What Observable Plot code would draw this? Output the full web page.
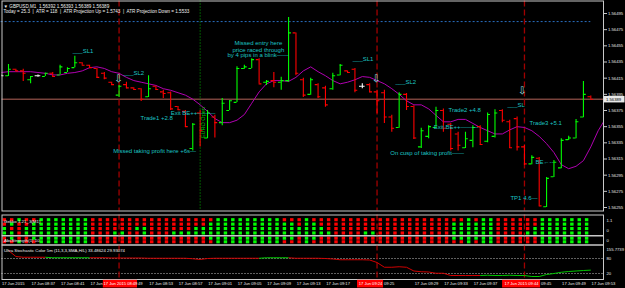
<!DOCTYPE html>
<html><head><meta charset="utf-8">
<script src="https://cdn.jsdelivr.net/npm/d3@7"></script>
<script src="https://cdn.jsdelivr.net/npm/@observablehq/plot@0.6"></script>
<style>
html,body{margin:0;padding:0;background:#000;}
#chart{position:relative;width:625px;height:288px;background:#000;overflow:hidden;}
#chart svg{position:absolute;left:0;top:0;}
</style></head><body><div id="chart"></div>
<script>
// ---------- DATA ----------
const times = ["08:33","08:34","08:35","08:36","08:37","08:38","08:39","08:40","08:41","08:42","08:43","08:44","08:45","08:46","08:47","08:48","08:49","08:50","08:51","08:52","08:53","08:54","08:55","08:56","08:57","08:58","08:59","09:00","09:01","09:02","09:03","09:04","09:05","09:06","09:07","09:08","09:09","09:10","09:11","09:12","09:13","09:14","09:15","09:16","09:17","09:18","09:19","09:20","09:21","09:22","09:23","09:24","09:25","09:26","09:27","09:28","09:29","09:30","09:31","09:32","09:33","09:34","09:35","09:36","09:37","09:38","09:39","09:40","09:41","09:42","09:43","09:44","09:45","09:46","09:47","09:48","09:49","09:50","09:51","09:52","09:53"];
const open = [1.56418,1.56418,1.56426,1.56424,1.56413,1.56418,1.56417,1.56421,1.56419,1.56422,1.56428,1.56434,1.56431,1.56427,1.56421,1.56410,1.56394,1.56407,1.56403,1.56402,1.56392,1.56405,1.56398,1.56397,1.56380,1.56374,1.56328,1.56372,1.56341,1.56367,1.56360,1.56375,1.56385,1.56427,1.56427,1.56438,1.56410,1.56412,1.56410,1.56412,1.56471,1.56413,1.56395,1.56407,1.56403,1.56402,1.56419,1.56424,1.56426,1.56405,1.56407,1.56398,1.56397,1.56367,1.56354,1.56395,1.56380,1.56330,1.56343,1.56354,1.56375,1.56358,1.56346,1.56329,1.56338,1.56355,1.56337,1.56343,1.56375,1.56361,1.56365,1.56330,1.56309,1.56316,1.56256,1.56293,1.56304,1.56339,1.56341,1.56367,1.56392];
const high = [1.56419,1.56432,1.56426,1.56426,1.56417,1.56419,1.56421,1.56422,1.56431,1.56428,1.56442,1.56434,1.56431,1.56427,1.56422,1.56410,1.56406,1.56410,1.56403,1.56402,1.56418,1.56405,1.56400,1.56398,1.56380,1.56375,1.56359,1.56375,1.56375,1.56369,1.56390,1.56387,1.56429,1.56431,1.56439,1.56439,1.56412,1.56422,1.56416,1.56490,1.56471,1.56415,1.56415,1.56408,1.56405,1.56421,1.56432,1.56424,1.56427,1.56408,1.56408,1.56400,1.56400,1.56369,1.56397,1.56396,1.56381,1.56353,1.56356,1.56379,1.56377,1.56359,1.56348,1.56348,1.56356,1.56356,1.56372,1.56376,1.56376,1.56363,1.56367,1.56332,1.56319,1.56317,1.56292,1.56313,1.56340,1.56343,1.56364,1.56411,1.56393];
const low = [1.56417,1.56417,1.56423,1.56411,1.56408,1.56416,1.56417,1.56416,1.56419,1.56422,1.56428,1.56431,1.56427,1.56415,1.56413,1.56406,1.56391,1.56402,1.56400,1.56386,1.56391,1.56400,1.56390,1.56375,1.56375,1.56354,1.56325,1.56330,1.56340,1.56341,1.56356,1.56375,1.56385,1.56426,1.56427,1.56408,1.56406,1.56403,1.56400,1.56410,1.56418,1.56391,1.56394,1.56390,1.56379,1.56400,1.56418,1.56421,1.56397,1.56402,1.56397,1.56371,1.56359,1.56348,1.56353,1.56375,1.56339,1.56328,1.56340,1.56353,1.56348,1.56325,1.56325,1.56328,1.56329,1.56332,1.56335,1.56341,1.56360,1.56328,1.56325,1.56307,1.56308,1.56257,1.56255,1.56292,1.56303,1.56338,1.56340,1.56366,1.56389];
const close = [1.56418,1.56426,1.56424,1.56421,1.56417,1.56418,1.56421,1.56417,1.56429,1.56427,1.56434,1.56431,1.56428,1.56416,1.56415,1.56407,1.56405,1.56403,1.56401,1.56389,1.56402,1.56401,1.56396,1.56377,1.56376,1.56355,1.56358,1.56350,1.56372,1.56360,1.56384,1.56387,1.56427,1.56429,1.56438,1.56408,1.56411,1.56410,1.56412,1.56471,1.56421,1.56394,1.56413,1.56392,1.56382,1.56418,1.56431,1.56422,1.56400,1.56405,1.56398,1.56387,1.56367,1.56353,1.56395,1.56380,1.56341,1.56350,1.56355,1.56375,1.56353,1.56328,1.56332,1.56340,1.56354,1.56333,1.56370,1.56372,1.56363,1.56329,1.56330,1.56309,1.56317,1.56257,1.56291,1.56311,1.56338,1.56341,1.56361,1.56395,1.56389];
const maTimes = times.concat(["09:54","09:55"]);
const maValues = [1.56422,1.56423,1.56423,1.56423,1.56423,1.56422,1.56421,1.56419,1.56419,1.56421,1.56422,1.56424,1.56428,1.56429,1.56427,1.56423,1.56421,1.56416,1.56412,1.56410,1.56408,1.56406,1.56402,1.56400,1.56397,1.56394,1.56389,1.56382,1.56374,1.56365,1.56360,1.56360,1.56363,1.56370,1.56384,1.56398,1.56408,1.56412,1.56412,1.56411,1.56416,1.56424,1.56429,1.56423,1.56418,1.56412,1.56408,1.56410,1.56413,1.56417,1.56416,1.56412,1.56408,1.56402,1.56395,1.56387,1.56382,1.56382,1.56377,1.56369,1.56361,1.56361,1.56364,1.56364,1.56359,1.56354,1.56350,1.56346,1.56346,1.56351,1.56355,1.56354,1.56350,1.56343,1.56334,1.56323,1.56308,1.56303,1.56306,1.56313,1.56330,1.56350,1.56365];
const priceTicks = [1.56495,1.56475,1.56455,1.56435,1.56415,1.56395,1.56375,1.56355,1.56335,1.56315,1.56295,1.56275,1.56255];
const currentPrice = 1.56389;
const topLevel = 1.56485;
const eventTimes = ["08:49","09:24","09:44"];
const euroOpen = "09:00";
const headerLines = ["\u25BC GBPUSD,M1  1.56392 1.56393 1.56389 1.56389",
  "Today = 25.3  |  ATR = 118  |  ATR Projection Up = 1.5743  |  ATR Projection Down = 1.5533"];
const noteText = ["___SL1","___SL2","Trade1 +2.8","Exit BE++\u2014\u2014\u2014","Missed taking profit here +6s\u2014","by 4 pips in a blink\u2014\u2014","___SL1","___SL2","Trade2 +4.8","Exit BE++\u2014\u2014\u2014","On cusp of taking profit\u2014\u2014","___SL","Trade3 +5.1","BE\u2190--","TP1 4.6\u2014"];
const noteTime = ["08:42:42","08:49:36","08:51:54","08:56:00","08:48:12","09:03:42","09:20:42","09:26:30","09:33:42","09:31:42","09:25:48","09:41:42","09:44:42","09:45:30","09:42:06"];
const notePrice = [1.56449,1.56421,1.56366,1.56372,1.56325,1.56443,1.56439,1.56410,1.56375,1.56354,1.56322,1.56382,1.56359,1.56311,1.56267];
const centerText = ["Missed entry here","price raced through"];
const centerTime = ["09:07:54","09:07:54"];
const centerPrice = [1.56458,1.56450];
const arrowTime = ["08:48:54","09:23:54","09:43:42"];
const arrowPrice = [1.56414,1.56414,1.56399];
// indicator panel A (4 rows) and B (2 rows): g = green, r = red, one per bar 08:34..09:53
const rowsA = [
 "rrgrrggggggg" + "rrrrrrrrrrrrrrr" + "rrggggggggg" + "rrrgrrrr" + "rrrrrrrrrrrrrrr" + "rrgrgg" + "rrrrrr" + "ggggggg",
 "rgrrgggggggg" + "rrrrrrrrrrrrrrr" + "rgggggggggg" + "ggrggrrr" + "rrrrrrrrrrrrrrr" + "gggggg" + "rrrrrr" + "ggggggg",
 "grrggggggggg" + "rrrrrrggrrrrrrg" + "ggggggggggg" + "ggggggrr" + "rrrrrrrrrrrrrrr" + "gggggg" + "rrrrrg" + "ggggggg",
 "ggrggggggggg" + "rrrggrrgrrrgggg" + "ggggggggggg" + "gggggggr" + "rrrggrrrrrrrrrr" + "gggggg" + "rrrrgg" + "ggggggg"];
const rowsB = [
 "rgrrgggggggg" + "rrrrrrrrrrrrrrr" + "rgggggggggg" + "ggrggrrr" + "rrrrrrrrrrrrrrr" + "gggggg" + "rrrrrr" + "ggggggg",
 "rrgrrggggggg" + "rrrrrrrrrrrrrrr" + "rrggggggggg" + "rrrgrrrr" + "rrrrrrrrrrrrrrr" + "rrgrgg" + "rrrrrr" + "ggggggg"];
const stoch = [112,88,85,85,85,85,83,83,83,83,83,83,83,83,82,82,82,82,82,81,81,81,81,81,81,79,76,80,81,81,81,81,81,81,81,83,83,83,83,81,81,81,81,80,78,75,75,75,75,74,64,45,45,47,45,30,27,26,21,21,12,12,12,12,12,13,12,12,13,12,12,8,8,16,20,25,28,30,32,33.5];
const stochState = "rrrrrrgggggg" + "rrrrrrrrrrrrrrrrrrrrrrr" + "gggg" + "rrrrrrrrrrrrrrrrrrrrrrrrrr" + "ggggggggggggggg";
const stochLevels = [80, 20];
// time axis: regular labels (visible part), and the highlighted labels of the three vertical lines
const tickTimes = ["08:33","08:37","08:41","08:45","08:53","08:57","09:01","09:05","09:09","09:13","09:17","09:29","09:33","09:37","09:49","09:53"];
const tickLabels = ["17 Jun 2015","17 Jun 08:37","17 Jun 08:41","17 Jun","17 Jun 08:53","17 Jun 08:57","17 Jun 09:01","17 Jun 09:05","17 Jun 09:09","17 Jun 09:13","17 Jun 09:17","17 Jun 09:29","17 Jun 09:33","17 Jun 09:37","17 Jun 09:49","17 Jun 09:53"];
const boxStart = ["08:46:52","09:21:21","09:41:02"];
const boxEnd = ["08:51:30","09:24:53","09:46:11"];
const boxLabels = ["17 Jun 2015 08:49","17 Jun 09:24","17 Jun 2015 09:44"];
const tailLabels = ["49","09:25","09:45"];

// ---------- BUILD ----------
const W = 625, H = 288;
const FONT = "'Liberation Sans', Arial, sans-serif";
const pT = d3.utcParse("%H:%M"), pTs = d3.utcParse("%H:%M:%S");
const T = s => (s.length > 5 ? pTs(s) : pT(s));
const sec = (t, s) => d3.utcSecond.offset(t, s);
const GREEN = "#00ff00", RED = "#ff0000";
const xOpt = {type: "utc", domain: [T("08:34"), T("09:53")], range: [8, 590.3], axis: null};
const yMain = {domain: [1.56255, 1.56495], range: [207, 13], axis: null};
const style = {background: "transparent", fontFamily: FONT, color: "#e0e0e0", overflow: "visible"};
const bars = times.map((t, k) => ({t: T(t), o: open[k], h: high[k], l: low[k], c: close[k]}));
const barColor = d => d.c > d.o ? GREEN : d.c < d.o ? RED : "#ffffff";
const ANN = "#1cc4c4";

const chart = document.getElementById("chart");
const add = svg => chart.appendChild(svg);

// main price panel
add(Plot.plot({
  width: W, height: H, style,
  marginLeft: 1.5, marginRight: 22, marginTop: 0.5, marginBottom: H - 210.5,
  x: xOpt, y: yMain,
  marks: [
    Plot.ruleY([topLevel], {x1: T("08:33"), x2: T("09:53"), stroke: "#2a6fc0", strokeDasharray: "2,2", strokeWidth: 1}),
    Plot.ruleY([currentPrice], {stroke: "#b4645a", strokeWidth: 1}),
    Plot.ruleX(eventTimes, {x: T, stroke: "#a00000", strokeWidth: 1.3, strokeDasharray: "6,3"}),
    Plot.ruleX([euroOpen], {x: T, stroke: "#00b000", strokeWidth: 1, strokeDasharray: "1,2"}),
    Plot.line(maValues, {x: (d, k) => T(maTimes[k]), y: d => d, stroke: "#b000b0", strokeWidth: 1, clip: true}),
    Plot.ruleX(bars, {x: "t", y1: "l", y2: "h", stroke: barColor, strokeWidth: 1.1, clip: true}),
    Plot.ruleY(bars, {x1: d => sec(d.t, -23), x2: "t", y: "o", stroke: barColor, strokeWidth: 1.1, clip: true}),
    Plot.ruleY(bars, {x1: "t", x2: d => sec(d.t, 23), y: "c", stroke: barColor, strokeWidth: 1.1, clip: true}),
    Plot.text(noteText, {x: (d, k) => T(noteTime[k]), y: (d, k) => notePrice[k], text: d => d, textAnchor: "start", fill: ANN, fontSize: 6}),
    Plot.text(centerText, {x: (d, k) => T(centerTime[k]), y: (d, k) => centerPrice[k], text: d => d, textAnchor: "middle", fill: ANN, fontSize: 6}),
    Plot.text(["EURO Open"], {x: () => T("09:00:24"), y: () => 1.56360, text: d => d, rotate: -90, fill: "#00c000", fontSize: 5.5}),
    Plot.text(arrowTime, {x: T, y: (d, k) => arrowPrice[k], text: () => "\u21E9", fill: "#9fe6e6", fontSize: 10, fontFamily: "DejaVu Sans"}),
    Plot.text([headerLines[0]], {frameAnchor: "top-left", dx: 1.5, dy: 3.5, text: d => d, fill: "#f0f0f0", fontSize: 4.6}),
    Plot.text([headerLines[1]], {frameAnchor: "top-left", dx: 1.5, dy: 9, text: d => d, fill: "#f0f0f0", fontSize: 4.6}),
    Plot.axisY(priceTicks, {anchor: "right", tickSize: 3, tickPadding: 1.5, tickFormat: d3.format(".5f"), fontSize: 4.2, stroke: "#c8c8c8", fill: "#e8e8e8", label: null}),
    Plot.frame({stroke: "#c8c8c8"})
  ]
}));

// current price marker on the right axis
add(Plot.plot({
  width: W, height: H, style,
  marginLeft: 603.5, marginRight: 0.5, marginTop: 0.5, marginBottom: H - 210.5,
  y: yMain,
  marks: [
    Plot.ruleY([currentPrice], {stroke: "#e8e8e8", strokeWidth: 6.5}),
    Plot.text([currentPrice], {y: d => d, frameAnchor: "left", textAnchor: "start", dx: 2, text: d3.format(".5f"), fill: "#000", fontSize: 4.2})
  ]
}));

// panel A
const cellsA = rowsA.flatMap((s, r) => [...s].map((ch, j) => ({t: T(times[j + 1]), row: r + 1, c: ch})));
add(Plot.plot({
  width: W, height: H, style,
  marginLeft: 1.5, marginRight: 22, marginTop: 214.5, marginBottom: H - 235,
  x: xOpt, y: {domain: [1, 4], range: [219.7, 233], axis: null},
  marks: [
    Plot.ruleX(eventTimes, {x: T, stroke: "#a00000", strokeWidth: 1.3, strokeDasharray: "6,3"}),
    Plot.rect(cellsA, {x1: d => sec(d.t, -44), x2: d => sec(d.t, -16), y1: d => d.row - 0.35, y2: d => d.row + 0.35, fill: d => d.c === "g" ? GREEN : RED}),
    Plot.text(["Gekko 1.21_3(M1)"], {frameAnchor: "top-left", dx: 2, dy: 4.5, text: d => d, fill: "#f0f0f0", fontSize: 4.4}),
    Plot.text(["1.1"], {frameAnchor: "top-right", dx: 3, dy: 4, textAnchor: "start", text: d => d, fill: "#e8e8e8", fontSize: 4.2}),
    Plot.text(["0"], {frameAnchor: "bottom-right", dx: 3, dy: -4, textAnchor: "start", text: d => d, fill: "#e8e8e8", fontSize: 4.2}),
    Plot.frame({stroke: "#c8c8c8"})
  ]
}));

// panel B
const cellsB = rowsB.flatMap((s, r) => [...s].map((ch, j) => ({t: T(times[j + 1]), row: r + 1, c: ch})));
add(Plot.plot({
  width: W, height: H, style,
  marginLeft: 1.5, marginRight: 22, marginTop: 235.5, marginBottom: H - 244.5,
  x: xOpt, y: {domain: [1, 2], range: [238.2, 241.8], axis: null},
  marks: [
    Plot.ruleX(eventTimes, {x: T, stroke: "#a00000", strokeWidth: 1.3, strokeDasharray: "6,3"}),
    Plot.rect(cellsB, {x1: d => sec(d.t, -44), x2: d => sec(d.t, -16), y1: d => d.row - 0.42, y2: d => d.row + 0.42, fill: d => d.c === "g" ? GREEN : RED}),
    Plot.text(["AbsStrength(1) 10"], {frameAnchor: "top-left", dx: 2, dy: 3, text: d => d, fill: "#f0f0f0", fontSize: 4.4}),
    Plot.text(["0"], {frameAnchor: "right", dx: 3, textAnchor: "start", text: d => d, fill: "#e8e8e8", fontSize: 4.2}),
    Plot.frame({stroke: "#c8c8c8"})
  ]
}));

// stochastic panel
const stochPts = stoch.map((v, k) => ({t: T(times[k + 1]), v, s: stochState[k]}));
const segs = stochPts.slice(1).map((d, k) => ({a: stochPts[k], b: d}));
add(Plot.plot({
  width: W, height: H, style,
  marginLeft: 1.5, marginRight: 22, marginTop: 244.5, marginBottom: H - 279,
  x: xOpt, y: {domain: [20, 80], range: [273, 258], axis: null},
  marks: [
    Plot.ruleY(stochLevels, {stroke: "#c0c0c0", strokeDasharray: "1,2", strokeWidth: 1}),
    Plot.ruleX(eventTimes, {x: T, stroke: "#a00000", strokeWidth: 1.3, strokeDasharray: "6,3"}),
    Plot.link(segs, {x1: d => d.a.t, y1: d => d.a.v, x2: d => d.b.t, y2: d => d.b.v, stroke: d => d.b.s === "g" ? "#00c800" : "#d00000", strokeWidth: 1, clip: true}),
    Plot.text(["Ultra Stochastic Color 5m (11,3,3,SMA,H/L) 33.48624 29.93074"], {frameAnchor: "top-left", dx: 2, dy: 4, text: d => d, fill: "#f0f0f0", fontSize: 4.3}),
    Plot.text(["155.7739"], {frameAnchor: "top-right", dx: 3, dy: 3.5, textAnchor: "start", text: d => d, fill: "#e8e8e8", fontSize: 4.2}),
    Plot.text([80], {frameAnchor: "right", y: d => d, dx: 3, textAnchor: "start", text: d => String(d), fill: "#e8e8e8", fontSize: 4.2}),
    Plot.text([20], {frameAnchor: "right", y: d => d, dx: 3, textAnchor: "start", text: d => String(d), fill: "#e8e8e8", fontSize: 4.2}),
    Plot.frame({stroke: "#c8c8c8"})
  ]
}));

// time axis
add(Plot.plot({
  width: W, height: H, style,
  marginLeft: 1.5, marginRight: 22, marginTop: 279.5, marginBottom: 0.5,
  x: xOpt, y: {domain: [0, 1], range: [287.5, 279.8], axis: null},
  marks: [
    Plot.text(tickTimes, {x: T, y: 0.5, text: (d, k) => tickLabels[k], textAnchor: "start", dx: 0.8, fill: "#e8e8e8", fontSize: 4.1}),
    Plot.rect(boxStart, {x1: T, x2: (d, k) => T(boxEnd[k]), y1: 0, y2: 1, fill: "#ff0000"}),
    Plot.text(boxStart, {x: (d, k) => new Date((+T(d) + +T(boxEnd[k])) / 2), y: 0.5, text: (d, k) => boxLabels[k], fill: "#ffffff", fontSize: 4.1}),
    Plot.text(boxEnd, {x: T, y: 0.5, text: (d, k) => tailLabels[k], textAnchor: "start", dx: 0.5, fill: "#e8e8e8", fontSize: 4.1})
  ]
}));
</script></body></html>
